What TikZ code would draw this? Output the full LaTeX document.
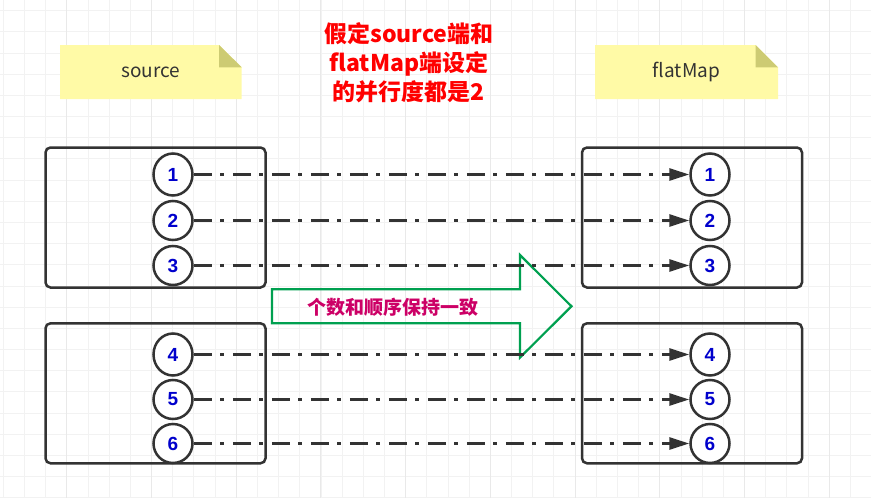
\documentclass[tikz,border=0pt]{standalone}
\usepackage{fontspec}
\setmainfont{Liberation Sans}
\newfontfamily\cjkfont{Noto Sans CJK SC}
\usepackage{xcolor}
\usetikzlibrary{shapes.geometric, arrows.meta, positioning}

\definecolor{notefill}{HTML}{FFFAA6}
\definecolor{notefold}{HTML}{CDCB73}
\definecolor{edgegray}{HTML}{333333}
\definecolor{numblue}{HTML}{0000CC}
\definecolor{keepgreen}{HTML}{00A050}
\definecolor{keeppink}{HTML}{CC0066}
\definecolor{gridminor}{HTML}{F2F2F2}
\definecolor{gridmajor}{HTML}{E9E9E9}

\begin{document}
\begin{tikzpicture}[x=1pt, y=-1pt,
    groupbox/.style={draw=edgegray, line width=2.5pt, rounded corners=5pt,
        minimum width=220pt, minimum height=140pt, inner sep=0pt},
    numnode/.style={ellipse, draw=edgegray, line width=2.5pt, fill=white,
        minimum width=39pt, minimum height=39pt, inner sep=0pt,
        text=numblue, font=\fontsize{19}{21}\selectfont\bfseries},
    notetext/.style={text=edgegray, font=\cjkfont\fontsize{19}{22}\selectfont},
    flowline/.style={draw=edgegray, line width=2.8pt,
        dash pattern=on 18pt off 8.5pt on 3.5pt off 9pt,
        -{Triangle[length=20pt, width=12pt]}}]

        \useasboundingbox (0,0) rectangle (871,498);

        % background grid
        \foreach \i in {0,...,41}
            \draw[gridminor, line width=1pt] ({3.3+21.18*\i},0) -- ({3.3+21.18*\i},498);
        \foreach \j in {0,...,23}
            \draw[gridminor, line width=1pt] (0,{10.7+21.18*\j}) -- (871,{10.7+21.18*\j});
        \foreach \i in {0,...,9}
            \draw[gridmajor, line width=1pt] ({66.8+84.72*\i},0) -- ({66.8+84.72*\i},498);

        % notes
        \fill[notefill] (60,45) -- (219,45) -- (241.7,67.3) -- (241.7,99) -- (60,99) -- cycle;
        \fill[notefold] (219,45) -- (219,67.3) -- (241.7,67.3) -- cycle;
        \node[notetext] (srcnote) at (151,72) {source};

        \fill[notefill] (595,45) -- (755.5,45) -- (778,67.3) -- (778,99) -- (595,99) -- cycle;
        \fill[notefold] (755.5,45) -- (755.5,67.3) -- (778,67.3) -- cycle;
        \node[notetext] (mapnote) at (686.5,72) {flatMap};

        % title
        \node[text=red, align=center, font=\cjkfont\fontsize{23}{29}\selectfont\bfseries]
            (title) at (409,63) {假定source端和\\flatMap端设定\\的并行度都是2};

        % partition boxes
        \node[groupbox] (srcA) at (155.5,217.5) {};
        \node[groupbox] (srcB) at (155.5,393.3) {};
        \node[groupbox] (mapA) at (692,217.5) {};
        \node[groupbox] (mapB) at (692,393.3) {};

        % big arrow
        \draw[keepgreen, line width=2.2pt, line join=miter]
            (272,289.3) -- (520,289.3) -- (520,255) -- (571.5,306.3)
            -- (520,357.5) -- (520,323.3) -- (272,323.3) -- cycle;
        \node[text=keeppink, font=\cjkfont\fontsize{19}{22}\selectfont\bfseries]
            (keeptext) at (393,307) {个数和顺序保持一致};

        % source side
        \node[numnode, minimum height=42pt] (s1) at (173,174.5) {1};
        \node[numnode] (s2) at (173,220.5) {2};
        \node[numnode] (s3) at (173,265.5) {3};
        \node[numnode, minimum height=42pt] (s4) at (173,354.5) {4};
        \node[numnode] (s5) at (173,399.5) {5};
        \node[numnode] (s6) at (173,443.5) {6};

        % flatMap side
        \node[numnode, minimum height=42pt] (t1) at (710,174.5) {1};
        \node[numnode] (t2) at (710,220.5) {2};
        \node[numnode] (t3) at (710,265.5) {3};
        \node[numnode, minimum height=42pt] (t4) at (710,354.5) {4};
        \node[numnode] (t5) at (710,399.5) {5};
        \node[numnode] (t6) at (710,443.5) {6};

        % one to one
        \draw[flowline] (s1) -- (t1);
        \draw[flowline] (s2) -- (t2);
        \draw[flowline] (s3) -- (t3);
        \draw[flowline] (s4) -- (t4);
        \draw[flowline] (s5) -- (t5);
        \draw[flowline] (s6) -- (t6);

    \end{tikzpicture}
\end{document}
